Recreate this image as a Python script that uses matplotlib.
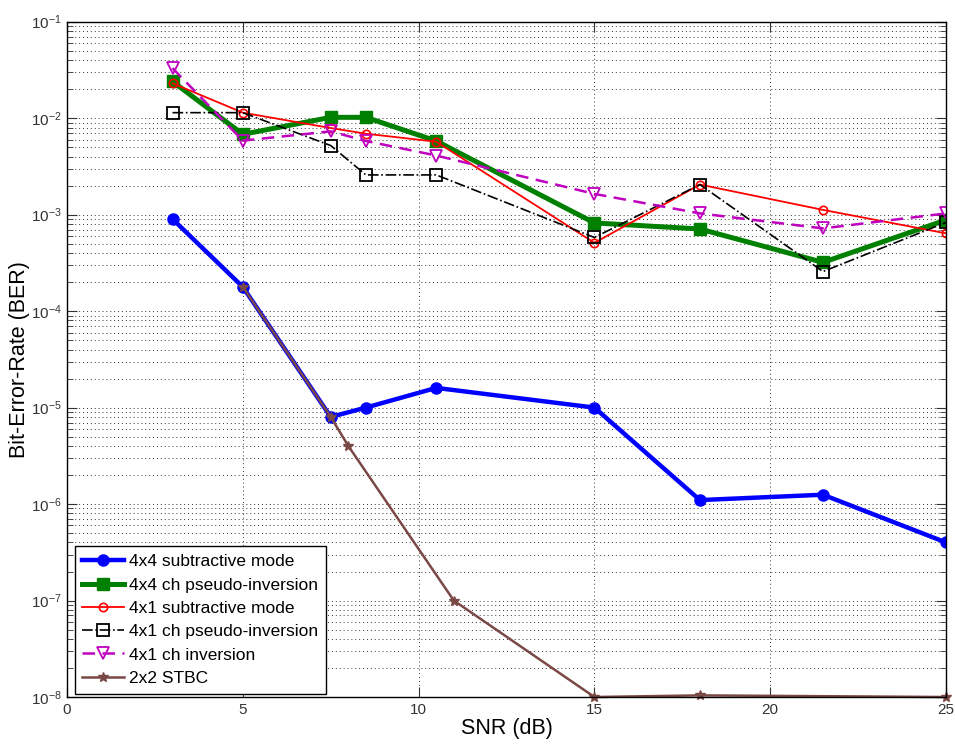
import matplotlib
matplotlib.use("Agg")
import matplotlib.pyplot as plt
from matplotlib.ticker import LogLocator, FixedLocator, NullFormatter

plt.rcParams['font.family'] = ['Liberation Sans', 'DejaVu Sans']
plt.rcParams['mathtext.fontset'] = 'custom'
plt.rcParams['mathtext.rm'] = 'Liberation Sans'
plt.rcParams['mathtext.it'] = 'Liberation Sans'

# SNR points (dB)
snr_main = [3, 5, 7.5, 8.5, 10.5, 15, 18, 21.5, 25]
snr_stbc = [5, 7.5, 8, 11, 15, 18, 25]

# BER curves
ber_4x4_sub = [9.0e-4, 1.78e-4, 8.0e-6, 1.0e-5, 1.6e-5, 1.0e-5, 1.1e-6, 1.25e-6, 4.0e-7]
ber_4x4_pinv = [2.4e-2, 6.8e-3, 1.02e-2, 1.02e-2, 5.8e-3, 8.2e-4, 7.1e-4, 3.2e-4, 8.8e-4]
ber_4x1_sub = [2.3e-2, 1.14e-2, 7.9e-3, 6.9e-3, 5.7e-3, 5.1e-4, 2.05e-3, 1.12e-3, 6.4e-4]
ber_4x1_pinv = [1.14e-2, 1.14e-2, 5.2e-3, 2.58e-3, 2.58e-3, 5.8e-4, 2.05e-3, 2.57e-4, 8.3e-4]
ber_4x1_inv = [3.3e-2, 5.85e-3, 7.3e-3, 5.8e-3, 4.1e-3, 1.64e-3, 1.03e-3, 7.2e-4, 1.03e-3]
ber_2x2_stbc = [1.78e-4, 8.0e-6, 4.0e-6, 1.0e-7, 1.0e-8, 1.04e-8, 1.0e-8]

labels = ["4x4 subtractive mode", "4x4 ch pseudo-inversion", "4x1 subtractive mode",
          "4x1 ch pseudo-inversion", "4x1 ch inversion", "2x2 STBC"]

fig = plt.figure(figsize=(9.55, 7.45), dpi=100)
ax = fig.add_axes([0.0702, 0.0644, 0.9204, 0.9065])

ax.semilogy(snr_main, ber_4x4_sub, '-o', color=(0, 0, 1), lw=3.2, ms=8,
            mfc=(0, 0, 1), mec=(0, 0, 1), label=labels[0])
ax.semilogy(snr_main, ber_4x4_pinv, '-s', color=(0, 0.5, 0), lw=3.6, ms=9,
            mfc=(0, 0.5, 0), mec=(0, 0.5, 0), label=labels[1])
ax.semilogy(snr_main, ber_4x1_sub, '-o', color=(1, 0, 0), lw=1.3, ms=6,
            mfc='none', mec=(1, 0, 0), mew=1.2, label=labels[2])
ax.semilogy(snr_main, ber_4x1_pinv, '-.s', color='black', lw=1.2, ms=8,
            mfc='none', mec='black', mew=1.3, label=labels[3])
ax.semilogy(snr_main, ber_4x1_inv, '--v', color=(0.75, 0, 0.75), lw=1.8, ms=9,
            mfc='none', mec=(0.75, 0, 0.75), mew=1.3, label=labels[4],
            dashes=(5, 3))
ax.semilogy(snr_stbc, ber_2x2_stbc, '-*', color='#7a4845', lw=1.8, ms=7,
            mfc='#7a4845', mec='#7a4845', label=labels[5], clip_on=False)

ax.set_xlim(0, 25)
ax.set_ylim(1e-8, 1e-1)
ax.xaxis.set_major_locator(FixedLocator([0, 5, 10, 15, 20, 25]))
ax.yaxis.set_major_locator(LogLocator(base=10, numticks=20))
ax.yaxis.set_minor_locator(LogLocator(base=10, subs=range(2, 10), numticks=100))
ax.yaxis.set_minor_formatter(NullFormatter())

ax.grid(True, which='major', axis='both', linestyle=(0, (1, 3)), color='#333333', lw=0.7)
ax.grid(True, which='minor', axis='y', linestyle=(0, (1, 3)), color='#333333', lw=0.7)

ax.tick_params(which='both', direction='in', top=True, right=True, labelsize=11,
               colors='#333333', pad=4)
ax.tick_params(which='major', length=7)
ax.tick_params(which='minor', length=4)
for sp in ax.spines.values():
    sp.set_color('black')
    sp.set_linewidth(1.0)

ax.set_xlabel("SNR (dB)", fontsize=15.5, labelpad=1)
ax.set_ylabel("Bit-Error-Rate (BER)", fontsize=15.5)
ax.yaxis.set_label_coords(-0.042, 0.5)

leg = ax.legend(loc='lower left', bbox_to_anchor=(0.0085, 0.005), fontsize=12.5,
                handlelength=2.4, handletextpad=0.3, labelspacing=0.47,
                borderpad=0.45, borderaxespad=0, fancybox=False, framealpha=1,
                edgecolor='black')
leg.get_frame().set_linewidth(1.0)

fig.savefig("out.png", dpi=100)
